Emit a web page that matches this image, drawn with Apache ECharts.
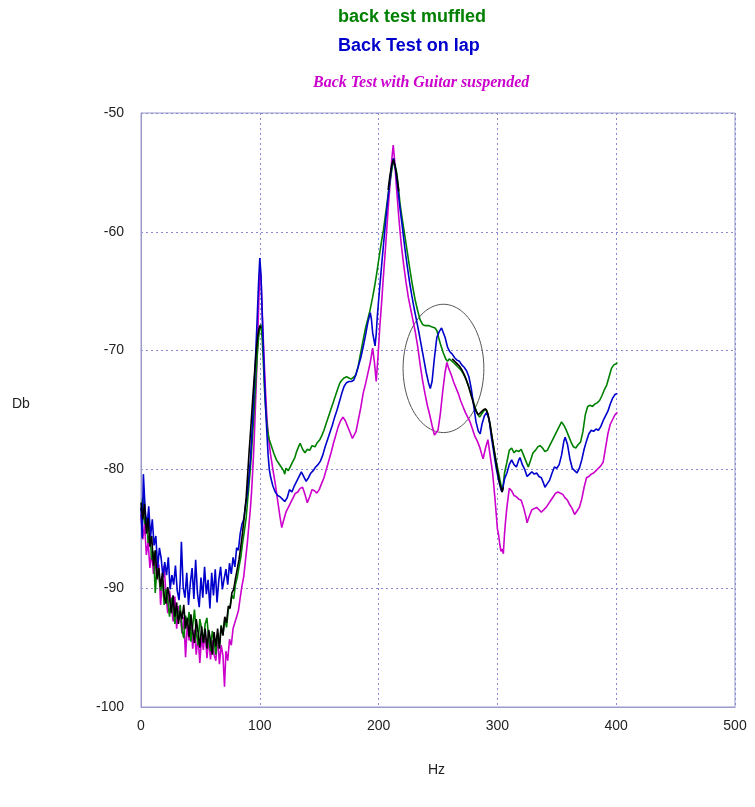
<!DOCTYPE html>
<html>
<head>
<meta charset="utf-8">
<title>Back test spectra</title>
<script src="https://cdn.jsdelivr.net/npm/echarts@6/dist/echarts.min.js"></script>
<style>
  html, body { margin: 0; padding: 0; background: #fff; }
  #chart { width: 755px; height: 807px; }
</style>
</head>
<body>
<div id="chart"></div>
<script>
// Spectrum readings: [frequency in Hz, level in dB]
const muffledSpectrum = [
  [0,-83.5],[1.5,-82.4],[3,-84.6],[4.5,-84],[6,-86.2],[7.5,-85.4],[9,-87.6],[10.5,-86.9],[12,-90.4],[13.5,-88.1],
  [15,-88.9],[16.5,-90.2],[18,-89.3],[19.5,-91.4],[21,-90.1],[22.5,-91],[24,-92.4],[25.5,-90.8],[27,-91.6],[28.5,-93],
  [30,-91.9],[31.5,-92.6],[33,-91.4],[34.5,-93.5],[36,-94.2],[37.5,-92.3],[39,-93.1],[40.5,-92],[42,-94.5],[43.5,-93.2],
  [45,-91.8],[46.5,-93.7],[48,-94.8],[49.5,-92.6],[51,-93.4],[52.5,-94.6],[54,-93],[55.5,-92.5],[57,-94.3],[58.5,-95.3],
  [60,-93.6],[61.5,-94.4],[63,-95.6],[64.5,-93.8],[66,-94.9],[67.5,-93.1],[69,-93.9],[70.5,-92.6],[72,-93.3],[73.5,-91.8],
  [75,-91.5],[76.5,-90.6],[78,-90.9],[79.5,-89.7],[81,-89.1],[82.5,-88.2],[84,-87.4],[85.5,-86.2],[87,-85.2],[88.5,-84.1],
  [90,-82.3],[91,-81.2],[92,-80],[93,-78.6],[94,-77],[95,-75.4],[96,-73.6],[97,-71.8],[98,-70.2],[99,-68.9],
  [100,-68],[101,-67.8],[102,-69],[103,-71],[104,-73.4],[105,-75],[106,-76.2],[107,-77],[108,-77.5],[110,-78.1],
  [112,-78.7],[114,-79.2],[116,-79.5],[118,-79.8],[120,-80.1],[121,-80.4],[122,-79.9],[124,-80.1],[125.5,-79.8],[127,-79.5],
  [129.5,-79],[131,-78.5],[133,-78],[134,-77.8],[136,-78.3],[138,-78.6],[140,-78.3],[142,-78.4],[144,-78],[146.5,-78.1],
  [148,-77.8],[150.5,-77.5],[152,-77.2],[154,-76.7],[156,-76.1],[158,-75.5],[160,-74.9],[162,-74.3],[164,-73.7],[166,-73.1],
  [167.5,-72.7],[169,-72.5],[171,-72.3],[173,-72.2],[175,-72.3],[177,-72.4],[178.6,-72.5],[180.5,-72.1],[182.7,-71.4],[184.5,-70.4],
  [187,-69.1],[189,-68.1],[190.8,-67.4],[192.8,-66.6],[195,-65.5],[196.8,-64.5],[198.4,-63.5],[200.5,-62.1],[202.3,-60.9],[204,-59.9],
  [206,-58.4],[208,-56.9],[210,-55.5],[212.3,-54.1],[214,-54.5],[215.2,-55],[216.6,-56.2],[218,-57.6],[220,-59],[222.2,-60.4],
  [224.3,-61.8],[226.4,-63.2],[228.5,-64.5],[230.7,-65.7],[232.8,-66.6],[234.9,-67.4],[237,-67.8],[239,-67.9],[240.5,-68],[242.5,-67.9],
  [244.5,-68],[246,-68.1],[247.5,-68.1],[249,-68.3],[250.5,-68.9],[252.5,-69.6],[254.5,-70.2],[256.5,-70.7],[258,-70.9],[259.5,-70.7],
  [261,-70.8],[263,-71],[265,-71.2],[267,-71.4],[269,-71.6],[271,-71.9],[273,-72.3],[275,-72.8],[277,-73.4],[279,-74],
  [281,-74.7],[283,-75.3],[285,-75.6],[287,-75.3],[289,-75],[291,-75],[293,-75.8],[295,-77],[297,-78.2],[299,-79.3],
  [301,-80.3],[303,-81.3],[304,-81.8],[305,-81.2],[306,-80.3],[308,-79.4],[310,-78.4],[312,-78.2],[314,-78.6],[316,-78.4],
  [318,-78.5],[320,-78.3],[322,-78.8],[324,-79.3],[326,-79.8],[328,-79.2],[330,-78.6],[332,-78.4],[334,-78.1],[336,-78],
  [338,-78.2],[340,-78.5],[342,-78.4],[344,-78],[346,-77.6],[348,-77.2],[350,-76.8],[352,-76.4],[354,-76],[356,-76.3],
  [358,-76.7],[360,-77.2],[362,-77.7],[364,-78.1],[366,-78.2],[368,-77.9],[370,-77.7],[372,-76.8],[374,-75.4],[376,-74.7],
  [378,-74.6],[380,-74.7],[382,-74.5],[384,-74.4],[386,-74.2],[388,-73.8],[390,-73.3],[392,-72.9],[394,-72.2],[396,-71.5],
  [398,-71.2],[400,-71.1],[401,-71]
];

const lapSpectrum = [
  [0,-83.2],[1,-85.8],[2,-80.4],[3.5,-83.4],[5,-84.9],[6.5,-83.1],[8,-85.7],[9.5,-84.2],[11,-86.4],[12.5,-85.6],
  [14,-88.3],[15.5,-86.6],[17,-87.5],[18.5,-89.1],[20,-87.8],[21.5,-88.9],[23,-87.4],[24.5,-90.1],[26,-88.9],[27.5,-89.7],
  [29,-88.1],[30.5,-90.2],[32,-91],[33,-89.4],[34,-86.1],[35.5,-89.9],[37,-90.8],[38.5,-88.7],[40,-91.4],[41.5,-89.6],
  [43,-88.3],[44.5,-90.9],[46,-87.6],[47.5,-90.4],[49,-91.6],[50.5,-89.1],[52,-90.8],[53.5,-88.2],[55,-90.5],[56.5,-89.3],
  [58,-91.7],[59.5,-88.7],[61,-90.6],[62.5,-88.4],[64,-91.2],[65.5,-89.3],[67,-88.2],[68.5,-90.1],[70,-89.2],[71.5,-88.4],
  [73,-89.7],[74.5,-87.9],[76,-88.8],[77.5,-87.4],[79,-88.2],[80.5,-86.6],[82,-86.8],[83.5,-85.4],[85,-84.6],[86.5,-84.2],
  [88,-83],[89.5,-82],[91,-80.4],[92,-79.3],[93,-77.6],[94,-75.8],[95,-73.7],[96,-71.5],[97,-69.2],[98,-66.8],
  [99,-64.2],[100,-62.2],[101,-63.6],[102,-66.9],[103,-69.8],[104,-72.6],[105,-75],[106,-77],[107,-78.8],[108,-80],
  [109,-80.6],[111,-81.4],[113,-81.9],[115,-82.2],[117,-82.3],[119,-82.5],[121,-82.7],[123,-82.4],[125,-81.7],[127,-81.9],
  [129,-81.4],[131,-81],[133,-80.6],[135,-80.2],[137,-80.6],[139,-81],[141,-80.7],[143,-80.3],[145,-80.1],[147,-79.8],
  [149,-79.6],[151,-79.3],[153,-78.8],[155,-78.1],[157,-77.5],[159,-76.9],[161,-76.3],[163,-75.6],[165,-75],[167,-74.3],
  [169,-73.6],[171,-73],[173,-72.7],[175,-72.6],[177,-72.6],[179,-72.5],[181,-72],[183,-71.3],[185,-70.6],[187,-69.7],
  [189,-68.7],[191,-67.6],[193,-66.8],[194,-67.4],[195,-68.5],[197,-69.6],[198,-68.6],[199,-67],[201,-64.6],[203,-62.3],
  [205,-60.1],[207,-58],[209,-56.1],[211,-54.5],[212.5,-53.8],[214,-54.6],[216,-56.2],[218,-58],[220,-59.6],[222,-61.3],
  [224,-62.8],[226,-64.2],[228,-65.4],[230,-66.5],[232,-67.5],[234,-68.5],[236,-69.6],[238,-70.7],[240,-71.8],[242,-72.7],
  [243.5,-73.2],[245,-72.6],[247,-70.6],[249,-68.9],[251,-68.4],[253,-68.1],[254,-68],[256,-68.9],[258,-69.7],[260,-70.1],
  [262,-70.3],[264,-70.6],[266,-70.8],[268,-70.9],[270,-71.2],[272,-71.4],[274,-71.7],[276,-72.2],[278,-73.2],[280,-74.6],
  [282,-76],[284,-76.8],[285.5,-77],[287,-76.2],[289,-75.5],[291,-75.2],[293,-75.8],[295,-77.3],[297,-78.6],[299,-79.9],
  [301,-80.9],[303,-81.7],[304,-81.9],[306,-80.8],[308,-80.3],[310,-79.6],[312,-79.2],[314,-79.6],[316,-79.8],[318,-79.2],
  [319,-79],[321,-79.6],[323,-80],[325,-80.6],[327,-80.4],[329,-80.2],[331,-80.4],[333,-80.3],[335,-80.6],[337,-80.7],
  [339,-81.2],[340,-81.5],[342,-81.2],[344,-80.9],[346,-80.3],[348,-79.8],[350,-79.9],[352,-79.6],[354,-78.8],[356,-77.6],
  [357,-77.3],[359,-77.9],[361,-79.1],[363,-79.9],[365,-80.1],[367,-80.3],[369,-79.9],[371,-79.2],[373,-78.3],[375,-77.6],
  [377,-77],[379,-76.7],[381,-76.8],[383,-76.6],[385,-76.7],[387,-76.4],[389,-75.9],[391,-75.5],[393,-75.1],[395,-74.5],
  [397,-74],[399,-73.7],[401,-73.6]
];

const suspendedSpectrum = [
  [0,-83.8],[1.5,-85.9],[3,-84.6],[4.5,-87.2],[6,-86.1],[7.5,-88.3],[9,-86.9],[10.5,-88.8],[12,-87.6],[13.5,-89.3],
  [15,-88],[16.5,-91.4],[18,-89.2],[19.5,-88.1],[21,-90.6],[22.5,-92.1],[24,-90.2],[25.5,-91.3],[27,-92.8],[28.5,-90.7],
  [30,-93.4],[31.5,-91.5],[33,-92.3],[34.5,-93.8],[36,-92.4],[37.5,-95.8],[39,-93],[40.5,-94.4],[42,-92.7],[43.5,-95.1],
  [45,-93.5],[46.5,-95.6],[48,-94],[49.5,-96.3],[51,-94.1],[52.5,-95.2],[54,-93.6],[55.5,-95.9],[57,-94.2],[58.5,-96],
  [60,-94.4],[61.5,-95.6],[63,-96.1],[64.5,-94],[66,-96.4],[67.5,-94.8],[69,-95.7],[70.3,-98.3],[71.5,-95.3],[73,-96.1],
  [74.5,-94.3],[76,-94.8],[77.5,-93.4],[79,-93.5],[80.5,-92.4],[82,-91.9],[83.5,-90.8],[85,-89.8],[86.5,-89],[88,-87.6],
  [89.5,-86.2],[91,-84.5],[92,-83.4],[93,-82],[94,-80.2],[95,-78.2],[96,-75.6],[97,-72.8],[98,-69.8],[99,-66.4],
  [100,-63.2],[101,-63.8],[102,-66.6],[103,-69.2],[104,-71.6],[105,-73.8],[106,-75.7],[107,-77],[108,-77.9],[109,-78.7],
  [111,-80],[113,-81.2],[115,-82.6],[117,-84],[118.5,-84.9],[120,-84.3],[122,-83.6],[124,-83.2],[126,-82.8],[128,-82.4],
  [130,-82],[132,-81.9],[134,-81.6],[136,-81.5],[138,-82.1],[140,-82.8],[142,-82.3],[144,-81.7],[146,-81.8],[148,-82],
  [150,-81.7],[152,-81.2],[154,-80.7],[156,-80],[158,-79.3],[160,-78.6],[162,-77.8],[164,-77.1],[166,-76.4],[168,-75.9],
  [170,-75.6],[172,-75.9],[174,-76.4],[176,-76.9],[178,-77.4],[179,-77.5],[181,-76.8],[183,-75.8],[185,-74.8],[187,-73.6],
  [189,-72.8],[191,-71.9],[193,-71],[195,-69.8],[196.5,-71],[198,-72.6],[199.5,-70.5],[201,-68],[202.5,-66],[204,-63.8],
  [205.5,-61.8],[207,-59.6],[208.5,-57.4],[210,-55.6],[211,-54],[212.3,-52.7],[213.5,-54],[215,-56.2],[217,-58.8],[219,-61],
  [221,-62.7],[223,-64.2],[225,-65.5],[227,-66.5],[229,-67.5],[231,-68.5],[233,-69.7],[235,-71.2],[237,-72.5],[239,-73.6],
  [241,-74.6],[243,-75.4],[245,-76.3],[247,-77.1],[248,-77.2],[250,-76.7],[252,-75.3],[254,-73.4],[256,-71.8],[257.5,-71],
  [259,-71.5],[261,-72],[263,-72.6],[265,-73.1],[267,-73.6],[269,-74.2],[271,-74.7],[273,-75.2],[275,-75.6],[277,-76],
  [279,-76.6],[281,-77.2],[283,-77.6],[285,-78.1],[287,-78.8],[288,-79.1],[290,-78.2],[292,-77.5],[294,-78.9],[296,-80.3],
  [298,-82.5],[300,-85],[301,-85.5],[302,-86.3],[303,-86.9],[304,-86.7],[305,-87.1],[306,-85.4],[307,-84.2],[308,-83.2],
  [310,-81.6],[312,-81.8],[314,-82.2],[316,-82.3],[318,-82.5],[320,-82.6],[322,-83.2],[324,-84],[325,-84.5],[327,-83.9],
  [329,-83.4],[331,-83.3],[333,-83.2],[335,-83.4],[337,-83.6],[339,-83.4],[341,-83.2],[343,-82.9],[345,-82.6],[347,-82.3],
  [349,-82],[351,-81.9],[353,-82],[355,-82.1],[357,-82.4],[359,-82.6],[361,-83],[363,-83.3],[365,-83.8],[367,-83.5],
  [369,-83.2],[371,-82.5],[373,-81.5],[375,-80.7],[377,-80.6],[379,-80.4],[381,-80.3],[383,-80.1],[385,-79.9],[387,-79.7],
  [389,-79.4],[391,-78.2],[393,-77],[395,-76.2],[397,-75.8],[399,-75.4],[401,-75.2]
];

// Reference trace, recorded in three pieces
const referenceLow = [
  [0,-82.8],[1.5,-84.2],[3,-82.9],[4.5,-85.4],[6,-84.1],[7.5,-86.5],[9,-85.6],[10.5,-88.1],[12,-86.8],[13.5,-89.2],
  [15,-88.3],[16.5,-89.9],[18,-88.7],[19.5,-90.6],[21,-91.3],[22.5,-89.9],[24,-90.8],[25.5,-92.1],[27,-90.6],[28.5,-92.4],
  [30,-91.2],[31.5,-93],[33,-91.9],[34.5,-92.6],[36,-91.4],[37.5,-93.4],[39,-92.5],[40.5,-94.1],[42,-92.2],[43.5,-93.6],
  [45,-94.6],[46.5,-92.6],[48,-93.7],[49.5,-95],[51,-93.2],[52.5,-94.6],[54,-93.4],[55.5,-95.1],[57,-93.5],[58.5,-94.4],
  [60,-95.6],[61.5,-93.7],[63,-94.9],[64.5,-93.4],[66,-95.1],[67.5,-93.2],[69,-94],[70.5,-92.4],[72,-92.9],[73.5,-91.5],
  [75,-91.7],[76.5,-90.4],[78,-90.1],[79.5,-89.2],[81,-88.4],[82.5,-87.6],[84,-86.5],[85.5,-85.3],[87,-83.9],[88.5,-82.4],
  [90,-80.1],[91,-78.5],[92,-77.1],[93,-75.6],[94,-74.1],[95,-72.7],[96,-71.3],[97,-70.1],[98,-69],[99,-68.3],
  [100,-67.9],[101,-68.1]
];
const referencePeak = [
  [208,-56.5],[209.5,-55.3],[211,-54.4],[212.5,-53.9],[214,-54.5],[215.5,-55.4],[217,-56.6]
];
const referenceMid = [
  [262,-70.7],[264,-70.9],[266,-71.1],[268,-71.3],[270,-71.6],[272,-72],[274,-72.5],[276,-73.1],[278,-73.8],[280,-74.5],
  [282,-75.1],[284,-75.4],[286,-75.2],[288,-75],[290,-74.9],[292,-75.3],[294,-76.3],[296,-77.6],[298,-78.9],[300,-80.1],
  [302,-81.2],[304,-81.9],[305,-81.5]
];

// Highlighted region: [centre Hz, centre dB, half-width Hz, half-height dB]
const highlightRegion = [[254.6, -71.5, 34, 5.4]];

// Axis ranges
const hzTicks = [0, 100, 200, 300, 400, 500];
const dbTicks = [-100, -90, -80, -70, -60, -50];

const legendTitles = ['back test muffled', 'Back Test on lap', 'Back Test with Guitar suspended'];

const GAP = ['-', '-'];
const referenceTrace = referenceLow.concat([GAP], referencePeak, [GAP], referenceMid);

const frameColor = '#9a9acc';
const gridColor = '#8a8ad0';
const textColor = '#222';

function lineSeries(name, data, color) {
  return {
    name: name,
    type: 'line',
    data: data,
    symbol: 'none',
    connectNulls: false,
    lineStyle: { color: color, width: 1.6 },
    itemStyle: { color: color },
    animation: false,
    silent: true
  };
}

const chart = echarts.init(document.getElementById('chart'), null, { renderer: 'canvas' });

chart.setOption({
  backgroundColor: '#ffffff',
  animation: false,
  grid: {
    left: 141, top: 113, width: 594, height: 594,
    show: true, borderColor: frameColor, borderWidth: 1, backgroundColor: 'transparent'
  },
  xAxis: {
    type: 'value',
    min: hzTicks[0], max: hzTicks[hzTicks.length - 1], interval: 100,
    axisLine: { show: true, lineStyle: { color: frameColor, width: 1 } },
    axisTick: { show: false },
    splitLine: { show: true, lineStyle: { color: gridColor, type: [2, 3], width: 1 } },
    axisLabel: { color: textColor, fontFamily: 'Liberation Sans, Arial, sans-serif', fontSize: 14, margin: 12 }
  },
  yAxis: {
    type: 'value',
    min: dbTicks[0], max: dbTicks[dbTicks.length - 1], interval: 10,
    axisLine: { show: true, lineStyle: { color: frameColor, width: 1 } },
    axisTick: { show: false },
    splitLine: { show: true, lineStyle: { color: gridColor, type: [2, 3], width: 1 } },
    axisLabel: { color: textColor, fontFamily: 'Liberation Sans, Arial, sans-serif', fontSize: 14, margin: 17 }
  },
  graphic: [
    { type: 'text', left: 338, top: 8, style: { text: legendTitles[0], fill: '#008000', font: 'bold 18px "Liberation Sans", Arial, sans-serif' } },
    { type: 'text', left: 338, top: 37, style: { text: legendTitles[1], fill: '#0000cc', font: 'bold 18px "Liberation Sans", Arial, sans-serif' } },
    { type: 'text', left: 313, top: 75, style: { text: legendTitles[2], fill: '#cc00cc', font: 'italic bold 16px "Liberation Serif", "DejaVu Serif", serif' } },
    { type: 'text', left: 12, top: 397, style: { text: 'Db', fill: textColor, font: '14px "Liberation Sans", Arial, sans-serif' } },
    { type: 'text', left: 428, top: 763, style: { text: 'Hz', fill: textColor, font: '14px "Liberation Sans", Arial, sans-serif' } }
  ],
  series: [
    lineSeries(legendTitles[2], suspendedSpectrum, '#cc00cc'),
    lineSeries(legendTitles[0], muffledSpectrum, '#008000'),
    lineSeries(legendTitles[1], lapSpectrum, '#0000cc'),
    lineSeries('reference', referenceTrace, '#000000'),
    {
      type: 'custom',
      data: highlightRegion,
      encode: { x: 0, y: 1 },
      clip: false,
      silent: true,
      animation: false,
      renderItem: function (params, api) {
        const cx = api.value(0), cy = api.value(1), rx = api.value(2), ry = api.value(3);
        const pts = [];
        for (let i = 0; i <= 96; i++) {
          const a = i / 96 * Math.PI * 2;
          pts.push(api.coord([cx + rx * Math.cos(a), cy + ry * Math.sin(a)]));
        }
        return {
          type: 'polyline',
          shape: { points: pts },
          style: { stroke: '#555555', lineWidth: 1, fill: null }
        };
      }
    }
  ]
});
</script>
</body>
</html>
